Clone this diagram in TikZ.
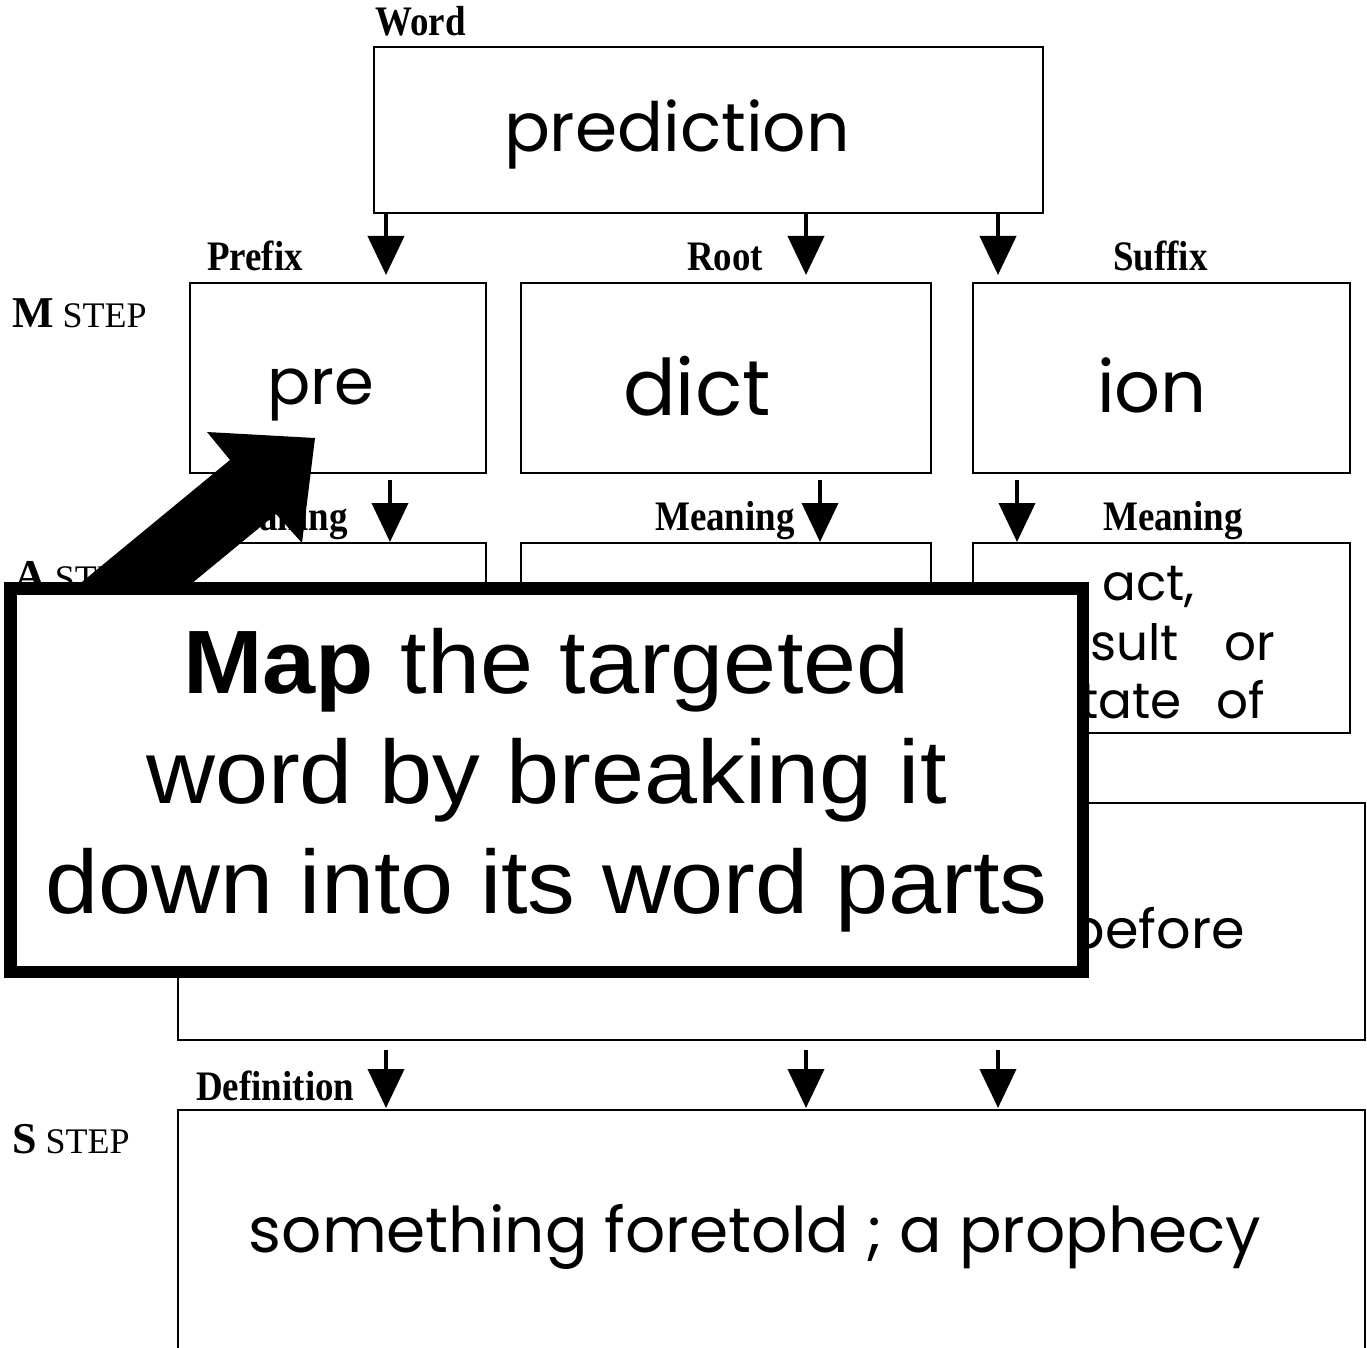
\documentclass[tikz,border=0pt]{standalone}
\usepackage{fontspec}
\setmainfont{Liberation Serif}
\newfontfamily\hdrfont[FakeStretch=0.88]{Liberation Serif}
\newfontfamily\calloutfont[FakeStretch=1.06]{Liberation Sans}
\newfontfamily\handfont{Poppins}
\usetikzlibrary{arrows.meta}

\begin{document}
\begin{tikzpicture}[x=1pt,y=-1pt,
  box/.style={draw, line width=2.4pt, inner sep=0pt, outer sep=0pt},
  hdr/.style={font=\hdrfont\bfseries\fontsize{42}{42}\selectfont, anchor=base west, inner sep=0pt},
  steplabel/.style={font=\fontsize{36}{36}\selectfont, anchor=base west, inner sep=0pt},
  hand/.style={font=\handfont\fontsize{#1}{#1}\selectfont, anchor=base, inner sep=0pt},
  arr/.style={line width=4pt, -{Triangle[width=36pt,length=39pt]}},
  bigtext/.style={font=\calloutfont\fontsize{90}{90}\selectfont, anchor=base, inner sep=0pt},
]
\useasboundingbox (0,0) rectangle (1367,1348);

% ---- boxes ----
\node[box, minimum width=669pt, minimum height=166pt] (word) at (708.5,130) {};
\node[box, minimum width=296pt, minimum height=190pt] (prefix) at (338,378) {};
\node[box, minimum width=410pt, minimum height=190pt] (root) at (726,378) {};
\node[box, minimum width=377pt, minimum height=190pt] (suffix) at (1161.5,378) {};
\node[box, minimum width=296pt, minimum height=190pt] (mprefix) at (338,638) {};
\node[box, minimum width=410pt, minimum height=190pt] (mroot) at (726,638) {};
\node[box, minimum width=377pt, minimum height=190pt] (msuffix) at (1161.5,638) {};
\node[box, minimum width=1187pt, minimum height=237pt] (combined) at (771.5,921.5) {};
\node[box, minimum width=1187pt, minimum height=246pt] (definition) at (771.5,1233) {};

% ---- headings ----
\node[hdr] (lword) at (375,36) {Word};
\node[hdr] (lprefix) at (207,270) {Prefix};
\node[hdr] (lroot) at (687,270) {Root};
\node[hdr] (lsuffix) at (1113,270) {Suffix};
\node[hdr] (lmprefix) at (208,530) {Meaning};
\node[hdr] (lmroot) at (655,530) {Meaning};
\node[hdr] (lmsuffix) at (1103,530) {Meaning};
\node[hdr] (ldef) at (196,1100) {Definition};

% ---- step labels ----
\node[steplabel] (mstep) at (12,327) {{\bfseries\fontsize{44}{44}\selectfont M} STEP};
\node[steplabel] (astep) at (14,590) {{\bfseries\fontsize{44}{44}\selectfont A} STEP};
\node[steplabel] (sstep) at (12,1153) {{\bfseries\fontsize{44}{44}\selectfont S} STEP};

% ---- arrow columns ----
\coordinate (c1) at (386,0);
\coordinate (c2) at (806,0);
\coordinate (c3) at (998,0);
\coordinate (d1) at (390,0);
\coordinate (d2) at (820,0);
\coordinate (d3) at (1017,0);

\draw[arr, shorten >=8pt] (word.south -| c1) -- (prefix.north -| c1);
\draw[arr, shorten >=8pt] (word.south -| c2) -- (root.north -| c2);
\draw[arr, shorten >=8pt] (word.south -| c3) -- (suffix.north -| c3);
\draw[arr, shorten <=7pt, shorten >=1pt] (prefix.south -| d1) -- (mprefix.north -| d1);
\draw[arr, shorten <=7pt, shorten >=1pt] (root.south -| d2) -- (mroot.north -| d2);
\draw[arr, shorten <=7pt, shorten >=1pt] (suffix.south -| d3) -- (msuffix.north -| d3);
\draw[arr, shorten <=10pt, shorten >=2pt] (combined.south -| c1) -- (definition.north -| c1);
\draw[arr, shorten <=10pt, shorten >=2pt] (combined.south -| c2) -- (definition.north -| c2);
\draw[arr, shorten <=10pt, shorten >=2pt] (combined.south -| c3) -- (definition.north -| c3);

% ---- handwritten entries ----
\node[hand=68] (tword) at (677,152) {prediction};
\node[hand=64] (tprefix) at (321,404) {pre};
\node[hand=78] (troot) at (697,415) {dict};
\node[hand=72] (tsuffix) at (1152,412) {ion};
% multi-line node: its base anchor sits on the last line
\node[hand=50, anchor=base east, align=right] (tsuffixmeaning) at (1275,718)
  {act,\hspace*{80pt}\\[10pt]result\hspace{0.9em}or\\[8pt]state\hspace{0.7em}of\hspace*{10pt}};
\node[hand=54, anchor=base east] (tcomb) at (1245,948) {before};
\node[hand=63] (tdef) at (755,1252) {something foretold ; a prophecy};

% ---- pointer arrow ----
\fill (315,438) -- (302,543) -- (276,514) -- (83,673) -- (37,619)
      -- (230,460) -- (207,432) -- cycle;

% ---- callout ----
\node[draw, line width=12.5pt, fill=white, inner sep=0pt,
      minimum width=1072.5pt, minimum height=383.5pt] (callout) at (546.5,780) {};
\node[bigtext] (map1) at (546.5,693) {{\bfseries Map} the targeted};
\node[bigtext] (map2) at (546.5,803) {word by breaking it};
\node[bigtext] (map3) at (546.5,913) {down into its word parts};
\end{tikzpicture}
\end{document}
